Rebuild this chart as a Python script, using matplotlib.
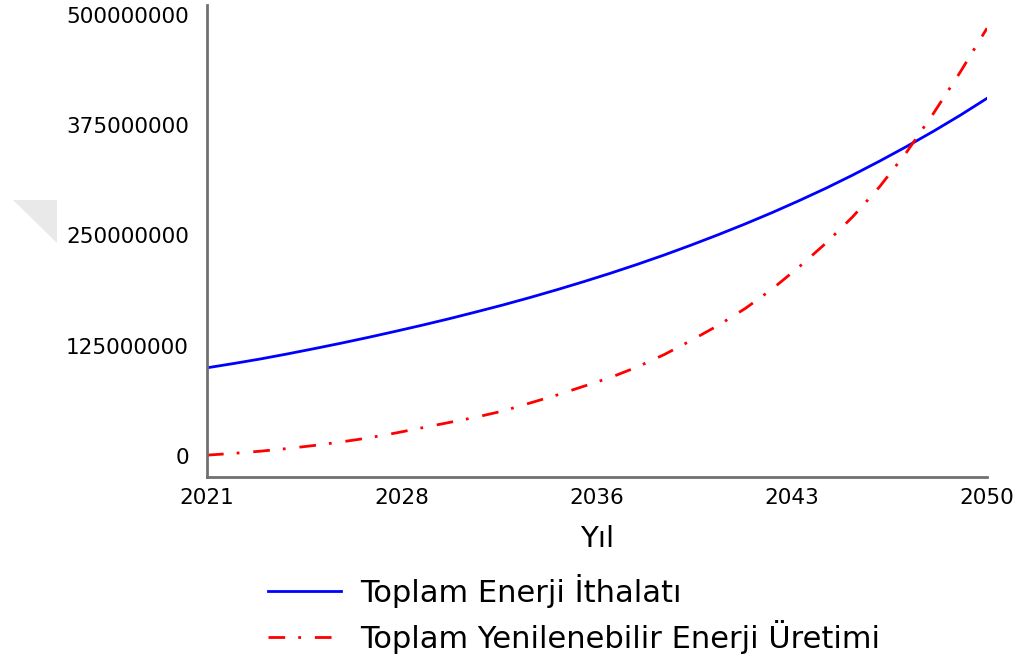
import matplotlib
matplotlib.use("Agg")
import matplotlib.pyplot as plt
from matplotlib.patches import Polygon

# yearly values (million)
years = list(range(2021, 2051))
ithalat = [100.0, 104.9, 110.1, 115.8, 121.8, 128.0, 134.5, 141.3, 148.3, 155.6,
           163.3, 171.2, 179.6, 188.4, 197.6, 207.2, 217.3, 227.9, 239.1, 250.8,
           263.0, 275.8, 289.3, 303.4, 318.4, 334.2, 350.7, 368.0, 386.2, 405.5]
yenilenebilir = [1.0, 3.0, 5.5, 8.5, 12.0, 16.0, 20.5, 26.0, 32.0, 38.0,
                 44.0, 51.0, 60.0, 69.0, 79.0, 89.0, 101.0, 115.0, 131.0, 148.0,
                 167.0, 189.0, 214.0, 241.0, 271.0, 305.0, 344.0, 388.0, 435.0, 485.0]

xticks = [2021, 2028.25, 2035.5, 2042.75, 2050]
xlabels = ["2021", "2028", "2036", "2043", "2050"]
yticks = [0, 125e6, 250e6, 375e6, 500e6]
ylabels = ["0", "125000000", "250000000", "375000000", "500000000"]

plt.rcParams['font.family'] = ['DejaVu Sans']
W, H = 1018, 659
fig = plt.figure(figsize=(W / 100, H / 100), dpi=100)
ax = fig.add_axes([207 / W, 1 - 477 / H, (987 - 207) / W, (477 - 5) / H])

ax.plot(years, [v * 1e6 for v in ithalat], color='#0000ff', lw=2.0,
        label='Toplam Enerji İthalatı')
ax.plot(years, [v * 1e6 for v in yenilenebilir], color='#ff0000', lw=2.0,
        dashes=(6, 4.7, 1, 5), label='Toplam Yenilenebilir Enerji Üretimi')

ax.set_xlim(2021, 2050)
ax.set_ylim(-23.8e6, 511.3e6)
ax.set_xticks(xticks)
ax.set_xticklabels(xlabels)
ax.set_yticks(yticks)
ax.set_yticklabels(ylabels)
ax.tick_params(length=0, labelsize=15.5, colors='black')
ax.tick_params(axis='y', pad=13)
ax.tick_params(axis='x', pad=8)
ax.set_xlabel('Yıl', fontsize=21, va='center')
ax.xaxis.set_label_coords(0.5, -0.131)

for s in ['top', 'right']:
    ax.spines[s].set_visible(False)
for s in ['left', 'bottom']:
    ax.spines[s].set_color('#707070')
    ax.spines[s].set_linewidth(2.0)

fig.legend(loc='upper left', bbox_to_anchor=(268 / W, 1 - 574 / H),
           frameon=False, fontsize=22, handlelength=2.4, handletextpad=0.62,
           labelspacing=0.38, borderpad=0, borderaxespad=0)

# light gray corner mark on the left side of the picture
tri = Polygon([(13 / W, 1 - 200 / H), (57 / W, 1 - 200 / H), (57 / W, 1 - 243 / H)],
              closed=True, transform=fig.transFigure, facecolor='#e9e9e9',
              edgecolor='none')
fig.patches.append(tri)

fig.savefig('out.png', dpi=100)
